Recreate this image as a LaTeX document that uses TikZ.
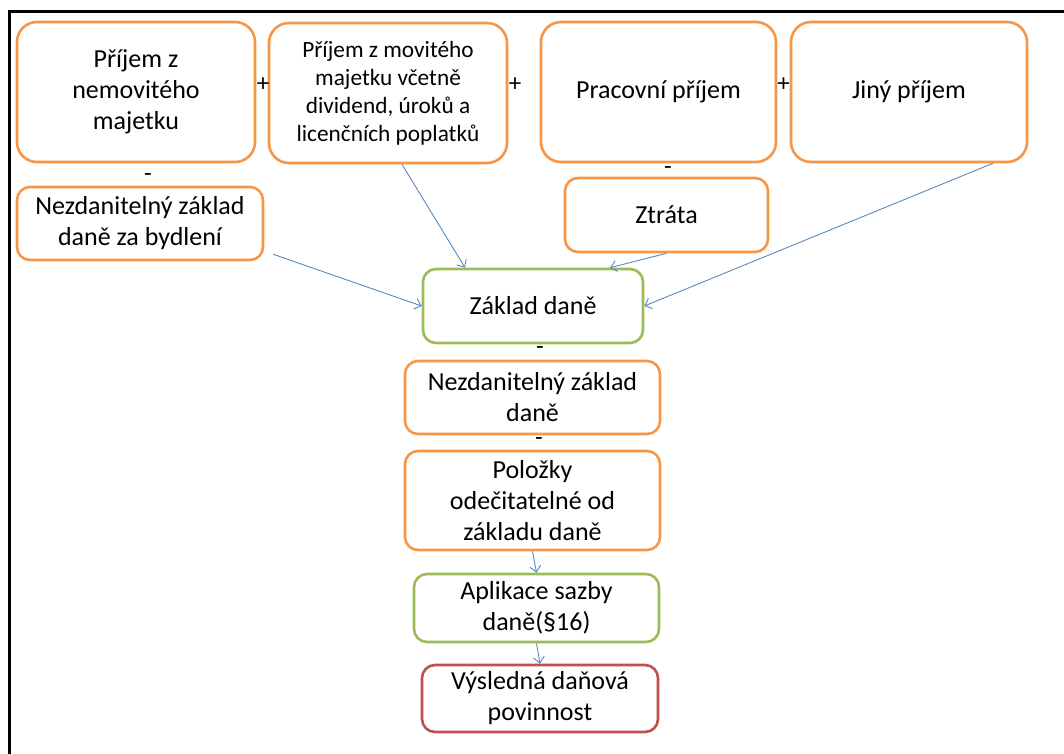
\documentclass[tikz,border=0pt]{standalone}
\usepackage{fontspec}
\setmainfont{Carlito}
\usetikzlibrary{arrows.meta}
\definecolor{boxorange}{HTML}{F79646}
\definecolor{boxgreen}{HTML}{9BBB59}
\definecolor{boxred}{HTML}{C0504D}
\definecolor{linkblue}{HTML}{5B87BE}
\tikzset{
  base/.style={rounded corners=#1, line width=2.6pt, fill=white, align=center,
    inner sep=0pt, font=\fontsize{26}{31}\selectfont},
  obox/.style={base=20pt, draw=boxorange},
  sbox/.style={base=13pt, draw=boxorange},
  gbox/.style={base=13pt, draw=boxgreen},
  rbox/.style={base=13pt, draw=boxred},
  op/.style={inner sep=0pt, font=\fontsize{25}{26}\selectfont},
  link/.style={draw=linkblue, line width=0.9pt, -{Straight Barb[length=6pt,width=11pt]}},
}
\begin{document}
\begin{tikzpicture}[x=1pt,y=-1pt]
\useasboundingbox (0,0) rectangle (1064,753);
% frame on the left and top edges
\draw[line width=3pt] (9.5,760) -- (9.5,11) -- (1070,11);

% income boxes
\node[obox, minimum width=238pt, minimum height=140pt] (A) at (136,92) {Příjem z\\nemovitého\\majetku};
\node[obox, minimum width=238pt, minimum height=140pt,
      font=\fontsize{23.3}{28}\selectfont] (B) at (388,93) {Příjem z movitého\\majetku včetně\\dividend, úroků a\\licenčních poplatků};
\node[obox, minimum width=235pt, minimum height=140pt] (C) at (658.5,92) {Pracovní příjem};
\node[obox, minimum width=236pt, minimum height=140pt] (D) at (909,92) {Jiný příjem};

\node[op] (p1) at (263,85) {+};
\node[op] (p2) at (515,85) {+};
\node[op] (p3) at (783.5,85) {+};
\node[op] (m1) at (148,178) {-};
\node[op] (m2) at (668,171) {-};

% deductions at the second level
\node[sbox, minimum width=246pt, minimum height=73pt] (E) at (140,223.5) {Nezdanitelný základ\\daně za bydlení};
\node[sbox, minimum width=203pt, minimum height=74pt] (Z) at (666.5,215) {Ztráta};

% tax base
\node[gbox, minimum width=220pt, minimum height=74pt] (T) at (533,306) {Základ daně};
\node[op] (m3) at (540,351) {-};
\node[sbox, minimum width=255pt, minimum height=73pt] (N) at (532.5,397.5) {Nezdanitelný základ\\daně};
\node[op] (m4) at (539,442) {-};
\node[sbox, minimum width=255pt, minimum height=99pt] (P) at (532.5,500.5) {Položky\\odečitatelné od\\základu daně};
\node[gbox, minimum width=245pt, minimum height=68pt] (S) at (536.5,608) {Aplikace sazby\\daně(§16)};
\node[rbox, minimum width=236pt, minimum height=67pt] (V) at (540,698.5) {Výsledná daňová\\povinnost};

% connectors
\draw[link] ([xshift=14pt]B.south) -- ([xshift=-68pt]T.north);
\draw[link] ([shift={(9pt,7pt)}]E.south east) -- (T.west);
\draw[link] (Z.south) -- ([xshift=77pt]T.north);
\draw[link] ([xshift=84pt]D.south) -- (T.east);
\draw[link] (P.south) -- (S.north);
\draw[link] (S.south) -- (V.north);
\end{tikzpicture}
\end{document}
